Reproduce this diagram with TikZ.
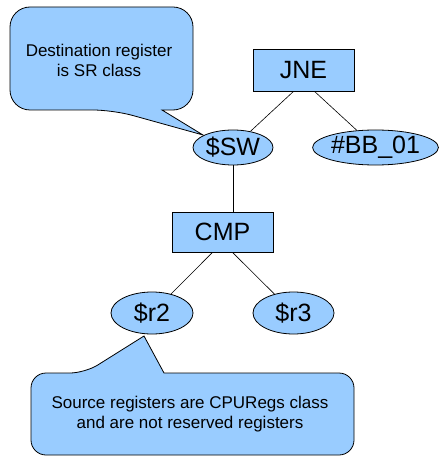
\documentclass[tikz,border=0pt]{standalone}
\usepackage{fontspec}
\setmainfont{Liberation Sans}
\usetikzlibrary{shapes.geometric}
\definecolor{callblue}{RGB}{153,204,255}
\begin{document}
\begin{tikzpicture}[x=1pt,y=1pt,yscale=-1,xscale=1,
  opbox/.style={draw=black, fill=callblue, line width=0.8pt, minimum width=101pt, minimum height=42pt, inner sep=0pt, font=\fontsize{25}{29}\selectfont},
  regnode/.style={ellipse, draw=black, fill=callblue, line width=0.8pt, minimum height=35pt, inner sep=0pt, font=\fontsize{25}{29}\selectfont},
  calltext/.style={align=center, inner sep=0pt, font=\fontsize{17}{20}\selectfont},
  edge/.style={draw=black, line width=0.6pt}]
\useasboundingbox (0,0) rectangle (446,465);

%Callout: destination register
\draw [fill=callblue, line width=0.8pt, rounded corners=20] (113,110) [sharp corners] -- (203,135) -- (162,110) [rounded corners=20] -- (193,110) -- (193,7) -- (10,7) -- (10,110) -- cycle;
%Callout: source registers
\draw [fill=callblue, line width=0.8pt, rounded corners=15] (85,373) [sharp corners] -- (144,336) -- (164,373) [rounded corners=15] -- (354,373) -- (354,455) -- (31,455) -- (31,373) -- cycle;

% Tree nodes
\node [opbox] (jne) at (303.5,70) {JNE};
\node [regnode, minimum width=80pt] (sw) at (233,147.5) {\$SW};
\node [regnode, minimum width=123pt] (bb) at (375.5,147.5) {\#BB\_01};
\node [opbox, minimum height=40pt] (cmp) at (222.5,232) {CMP};
\node [regnode, minimum width=82pt, minimum height=42pt] (rtwo) at (152,313) {\$r2};
\node [regnode, minimum width=81pt, minimum height=42pt] (rthree) at (293.5,313) {\$r3};

% Text Node
\node [calltext] (dsttext) at (99,60) {Destination register\\is SR class};
% Text Node
\node [calltext] (srctext) at (190,414) {Source registers are CPURegs class\\and are not reserved registers};

% Edges
\draw [edge] (jne.south) ++(-10,0) coordinate (jl) (jl) -- (sw);
\draw [edge] (jne.south) ++(11,0) coordinate (jr) (jr) -- (bb);
\draw [edge] (sw.south) -- (sw.south |- cmp.north);
\draw [edge] (cmp.south) ++(-10,0) coordinate (cl) (cl) -- (rtwo);
\draw [edge] (cmp.south) ++(10,0) coordinate (cr) (cr) -- (rthree);
\end{tikzpicture}
\end{document}
